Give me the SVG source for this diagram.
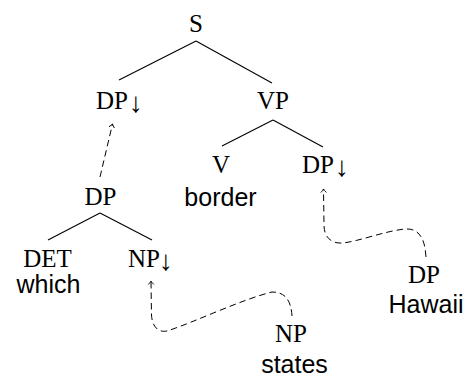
<svg xmlns="http://www.w3.org/2000/svg" width="467" height="377" viewBox="0 0 467 377">
<defs>
<style>
.s{font-family:"Liberation Serif","Times New Roman",serif;font-size:25px;fill:#000}
.w{font-family:"Liberation Sans",Arial,sans-serif;font-size:25px;fill:#000}
.a{font-size:28px}
.e{stroke:#000;stroke-width:1.1;fill:none}
.d{stroke:#000;stroke-width:1;fill:none;stroke-dasharray:6.5 4}
</style>
<marker id="ah" viewBox="-5 -4 7 8" markerWidth="7" markerHeight="8" refX="0" refY="0" orient="auto" markerUnits="userSpaceOnUse">
<path d="M-3.5,-2.8 Q-1.5,-0.8 0,0 Q-1.5,0.8 -3.5,2.8" fill="none" stroke="#000" stroke-width="0.9"/>
</marker>
</defs>
<g id="connectors">
<line class="e" x1="196" y1="41" x2="119" y2="80"/>
<line class="e" x1="196" y1="41" x2="272" y2="83"/>
<line class="e" x1="273" y1="120" x2="222" y2="146"/>
<line class="e" x1="273" y1="120" x2="323" y2="147"/>
<line class="e" x1="100" y1="213" x2="48" y2="240"/>
<line class="e" x1="100" y1="213" x2="152" y2="240"/>
<path class="d" d="M100,177 L112.5,124" marker-end="url(#ah)"/>
<path class="d" d="M426,257 C425,240 420,228 405,229 C385,231 360,241 343,243 C330,244 324,236 324,225 L323.5,189" marker-end="url(#ah)"/>
<path class="d" d="M292,316 C291,300 285,292 272,292 C240,300 195,322 167,331 C157,333 152,325 151.5,315 L151,281" marker-end="url(#ah)"/>
</g>
<g id="n-S"><text class="s" x="196" y="32" text-anchor="middle">S</text></g>
<g id="n-DP1"><text class="s" x="96" y="109">DP<tspan class="a" x="129" dy="3">↓</tspan></text></g>
<g id="n-VP"><text class="s" x="273" y="109" text-anchor="middle">VP</text></g>
<g id="n-V"><text class="s" x="221" y="173" text-anchor="middle">V</text><text class="w" x="220.5" y="206" text-anchor="middle">border</text></g>
<g id="n-DP2"><text class="s" x="302" y="173">DP<tspan class="a" x="335" dy="3">↓</tspan></text></g>
<g id="n-DP3"><text class="s" x="100.5" y="205" text-anchor="middle">DP</text></g>
<g id="n-DET"><text class="s" x="47.5" y="267" text-anchor="middle">DET</text><text class="w" x="48.5" y="293" text-anchor="middle">which</text></g>
<g id="n-NP1"><text class="s" x="128" y="267">NP<tspan class="a" x="159" dy="3">↓</tspan></text></g>
<g id="n-NP2"><text class="s" x="291" y="342" text-anchor="middle">NP</text><text class="w" x="294.5" y="373" text-anchor="middle">states</text></g>
<g id="n-DP4"><text class="s" x="424" y="283" text-anchor="middle">DP</text><text class="w" x="426" y="313" text-anchor="middle">Hawaii</text></g>
</svg>
